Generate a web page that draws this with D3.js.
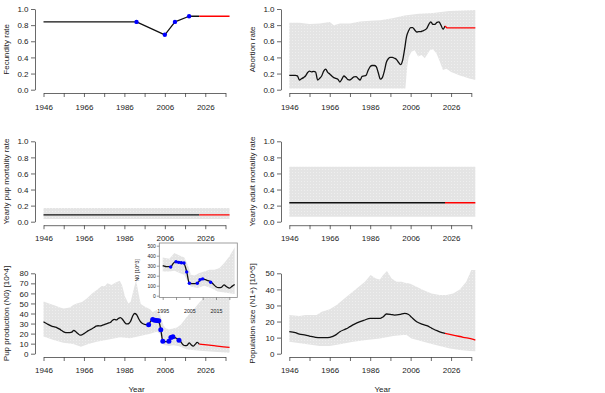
<!DOCTYPE html>
<html><head><meta charset="utf-8">
<script src="https://cdn.jsdelivr.net/npm/d3@7"></script>
<style>
body{margin:0;background:#fff}
svg text{font-family:"Liberation Sans",Arial,Helvetica,sans-serif;fill:#222}
</style>
</head><body>
<svg id="c" width="605" height="393"></svg>
<script>
// ---------------- DATA ----------------
const xTicks = [1946,1956,1966,1976,1986,1996,2006,2016,2026,2036];
const xTickLabels = [1946,1966,1986,2006,2026];
const rateTicks = [0,0.2,0.4,0.6,0.8,1.0];
const pupTicks = [0,10,20,30,40,50,60,70,80];
const popTicks = [0,10,20,30,40,50];
const insetXTicks = [1995,2000,2005,2010,2015,2020];
const insetXLabels = [1995,2005,2015];
const insetYTicks = [0,100,200,300,400,500];

// Fecundity
const fecYears = [1946,1992,2006,2011,2018,2023];
const fecRate  = [0.84,0.84,0.68,0.84,0.91,0.91];
const fecObsYears = [1992,2006,2011,2018];
const fecObs      = [0.84,0.68,0.84,0.91];
const fecProjYears = [2023,2038];
const fecProj      = [0.91,0.91];

// Abortion
const abortYears = d3.range(1946,2024);
const abortRate = [
 .178,.178,.178,.178,.172,.12,.135,.15,.17,.21,
 .23,.22,.228,.22,.12,.14,.17,.23,.255,.215,
 .195,.17,.15,.14,.13,.095,.13,.17,.15,.125,
 .12,.14,.16,.162,.14,.12,.165,.17,.18,.24,
 .285,.30,.30,.285,.21,.13,.15,.23,.34,.385,
 .40,.40,.39,.375,.34,.31,.36,.50,.66,.73,
 .77,.77,.74,.715,.72,.72,.73,.74,.76,.81,
 .84,.81,.81,.835,.84,.80,.75,.79];
const abortProjYears = [2023,2024,2038];
const abortProj      = [0.79,0.765,0.765];
const abortUpYears = [1946,1951,1956,1961,1966,1968,1971,1976,1981,1986,1991,1997,2003,2006,2010,2017,2025,2038];
const abortUpper   = [0.83,0.83,0.815,0.82,0.84,0.80,0.82,0.82,0.845,0.855,0.86,0.885,0.92,0.93,0.94,0.95,0.975,0.988];
const abortLoYears = [1946,1970,2003.4,2004.3,2005,2006.4,2008,2009.7,2011.4,2013,2014.5,2015.5,2017,2018.8,2020.4,2022,2023.7,2026,2030,2035,2038];
const abortLower   = [0.015,0.015,0.015,0.28,0.40,0.47,0.49,0.41,0.43,0.39,0.45,0.49,0.50,0.45,0.35,0.244,0.26,0.22,0.18,0.14,0.12];

// Yearly pup mortality
const pupMortYears = [1946,2023];
const pupMort      = [0.085,0.085];
const pupMortProjYears = [2023,2038];
const pupMortProj      = [0.085,0.085];
const pupMortBandYears = [1946,2038];
const pupMortUpper = [0.17,0.17];
const pupMortLower = [0.035,0.035];

// Yearly adult mortality
const adMortYears = [1946,2023];
const adMort      = [0.236,0.236];
const adMortProjYears = [2023,2038];
const adMortProj      = [0.236,0.236];
const adMortBandYears = [1946,2038];
const adMortUpper = [0.684,0.684];
const adMortLower = [0.062,0.062];

// Pup production N0 [10^4]
const pupYears = d3.range(1946,2024);
const pupN0 = [
 31.8,30.5,29.5,28.5,27.5,26.9,26.4,25.5,24.5,23,
 21.7,21,20.9,21,21.5,23.3,21.8,20,18.5,18.8,
 20,21.3,22.7,23.8,24.8,26,27.5,27.8,27.6,28.2,
 29,29.7,30.4,31,33,34.2,33.6,35,35.8,34.3,
 31.5,29.6,29.8,32,37,40,39,35,31.8,30,
 29.2,29,29,32.5,34,33.7,33,32,24,12.5,
 12,12,12.5,15.5,16.8,16,15,14,11.5,9,
 8,8.3,10.8,9,7.5,9.3,11.2,9.6];
const pupProjYears = [2023,2028,2033,2038];
const pupProj      = [9.6,8.5,7.3,6.3];
// survey counts [10^3]
const surveyYears = [1998,2000,2001,2002,2003,2004,2005,2008,2009,2010,2013];
const surveyN0    = [287,340,333,330,327,238,125,125,160,168,135];
const pupUpYears = [1946,1948.4,1951,1954.2,1956,1959,1960.7,1962.4,1965,1967.4,1970,1972.3,1974.8,1976.4,1977.6,1979.7,1981.4,1983.7,1984.8,1986.3,1988,1989.1,1990.5,1991.8,1993,1994.1,1996.2,1998.7,2000,2002,2003.7,2005,2006,2008,2010,2012,2014,2017,2020,2023.5,2030,2035,2038];
const pupUpper   = [52,50.3,48.5,46,45,46,48.5,50,51.5,55,60,63.4,67.4,67.4,70,68.4,70.6,72.5,68.4,57,50,51.7,63.4,73,60,49.5,46.8,44.2,41.5,43.5,38.5,30,26,24,25,26,29,37,43.5,52,63.4,73.4,80];
const pupLoYears = [1946,1951,1955.8,1960.7,1964.5,1968.2,1972.3,1978.9,1983.9,1988.8,1993.8,1998.7,2002,2003.5,2004.5,2005.4,2008,2010.3,2013,2016.9,2023.5,2031.8,2038];
const pupLower   = [17.2,13.6,10.9,9.7,7,9.7,11.9,14.3,16.3,15.3,17.6,19.8,21.9,20,13,9,7.7,8.5,7.5,4.3,3,1.7,1];
// inset band [10^3]
const insUpYears = [1995,1997.5,1999.4,2001.3,2003.1,2004.4,2005.6,2006.9,2008.7,2010.6,2012.5,2014.4,2016.3,2018.1,2020,2021.9,2022];
const insUpper   = [383,370,427,403,383,310,210,203,227,243,260,260,277,327,393,477,490];
const insLoYears = [1995,1997.5,1999.4,2001.3,2003.1,2004.4,2005.4,2008.1,2010.6,2013.1,2015.6,2019.4,2022];
const insLower   = [243,243,250,227,210,143,93,77,100,77,43,27,17];

// Population size N1+ [10^5]
const popYears = [1946,1949,1951,1954,1956,1959,1961,1964,1966,1969,1971,1974,1976,1978,1981,1983,1986,1988,1991,1992.5,1994,1996,1998,2001,2003,2005,2006.5,2009,2011.5,2014,2016.5,2019,2021.5,2023];
const popN1  = [13.7,13.1,12.1,11.6,11.0,10.2,9.95,9.95,10.2,11.7,13.7,15.4,16.8,18.2,19.9,20.8,22,22,22,23,24.7,24.5,24,24.5,25.1,24.4,22.6,19.9,18.4,17.4,15.8,14.3,13.1,12.6];
const popProjYears = [2023,2027,2032,2037,2038];
const popProj      = [12.6,11.6,10.2,8.9,8.5];
const popUpYears = [1946,1951,1954,1959.5,1962,1966,1969.4,1974.3,1979.3,1983.4,1986.2,1988.8,1990.8,1992.4,1994.3,1996.6,1999.1,2001.6,2003.1,2005.6,2008.9,2012.2,2016.3,2020.4,2023.7,2027,2030.3,2033.5,2036,2038];
const popUpper   = [24,23.4,24,24,26.1,27.6,30.3,35.4,40.6,44.8,48.9,46.8,46.2,48.9,51.5,46.8,44.8,44.8,44.2,43.7,41.7,39.6,37.5,36.5,36.5,37.5,40,44.8,52,52];
const popLoYears = [1946,1954,1961,1966,1971,1977.6,1984.2,1990.8,1997.4,2002.3,2004,2006.4,2010.6,2015.5,2020.4,2025.4,2030.3,2035.2,2038];
const popLower   = [7.5,6,4.8,4.8,5.8,7.5,8.5,9.5,11,11.6,11.6,9.5,8.1,6.4,4.8,3.3,2.3,1.7,1.5];

// ---------------- DRAW ----------------
const svg = d3.select("#c");
const defs = svg.append("defs");
const pat = defs.append("pattern").attr("id","dots").attr("width",3).attr("height",3).attr("patternUnits","userSpaceOnUse");
pat.append("rect").attr("width",3).attr("height",3).attr("fill","#e4e4e4");
pat.append("rect").attr("x",1).attr("y",1).attr("width",1).attr("height",1).attr("fill","#efefef");

const FS = 8;
const cols = [{axisX:35, x0:43.5, x1:225.5, labelX:9, yearX:136.5},
              {axisX:281, x0:289.3, x1:471.3, labelX:255, yearX:382.5}];
const rows = [{y0:89.7, y1:9, axisY:93, base:110},
              {y0:221.7, y1:141.3, axisY:225.2, base:241},
              {y0:353.7, y1:273.3, axisY:357, base:373}];
let clipN = 0;

function zip(xs, ys){ return xs.map((d,i)=>[d, ys[i]]); }

function panel(ci, ri, yDomain, yTicks, yFmt, title){
  const c = cols[ci], r = rows[ri];
  const x = d3.scaleLinear().domain([1946,2036]).range([c.x0,c.x1]);
  const y = d3.scaleLinear().domain(yDomain).range([r.y0,r.y1]);
  const g = svg.append("g");
  const id = "clip"+(clipN++);
  const ext = (r.y0 - r.y1)*0.04;
  const right = x(2038) + (c.x0 - c.axisX);
  defs.append("clipPath").attr("id",id).append("rect")
    .attr("x",c.axisX).attr("y",r.y1-ext).attr("width",right-c.axisX).attr("height",r.axisY-(r.y1-ext));
  const plot = g.append("g").attr("clip-path",`url(#${id})`);
  // axes
  const ax = g.append("g").attr("transform",`translate(0,${r.axisY})`)
    .call(d3.axisBottom(x).tickValues(xTicks).tickSize(4).tickSizeOuter(0)
      .tickFormat(d => xTickLabels.includes(d) ? d : ""));
  ax.selectAll("text").attr("y", r.base - r.axisY).attr("dy",0).style("font-size",FS+"px").attr("fill","#222");
  const ay = g.append("g").attr("transform",`translate(${c.axisX},0)`)
    .call(d3.axisLeft(y).tickValues(yTicks).tickSize(4).tickSizeOuter(0).tickFormat(yFmt));
  ay.selectAll("text").attr("x",-6.5).attr("dy","0.33em").style("font-size",FS+"px").attr("fill","#222");
  g.selectAll(".domain, .tick line").attr("stroke","#444").attr("stroke-width",0.8);
  g.selectAll(".tick text").attr("font-family",null);
  g.selectAll("g").attr("font-family",null).attr("font-size",null);
  // title
  g.append("text").attr("transform",`translate(${c.labelX},${(r.y0+r.y1)/2}) rotate(-90)`)
    .attr("text-anchor","middle").style("font-size",FS+"px").text(title);
  if (ri === 2) {
    g.append("text").attr("x",c.yearX).attr("y",391.5).attr("text-anchor","middle").style("font-size",FS+"px").text("Year");
  }
  return {x, y, plot};
}

function band(p, upY, up, loY, lo){
  const pts = zip(upY, up).concat(zip(loY, lo).reverse());
  p.plot.append("path")
    .attr("d", d3.line().x(d=>p.x(d[0])).y(d=>p.y(d[1]))(pts) + "Z")
    .attr("fill","url(#dots)").attr("stroke","none");
}
function line(p, xs, ys, color, curve){
  p.plot.append("path")
    .attr("d", d3.line().x(d=>p.x(d[0])).y(d=>p.y(d[1])).curve(curve||d3.curveLinear)(zip(xs,ys)))
    .attr("fill","none").attr("stroke",color).attr("stroke-width",1.3).attr("stroke-linejoin","round");
}
function points(p, xs, ys, rr){
  p.plot.selectAll(null).data(zip(xs,ys)).join("circle")
    .attr("cx",d=>p.x(d[0])).attr("cy",d=>p.y(d[1])).attr("r",rr).attr("fill","#0000ff");
}
const f1 = d3.format(".1f");

// Panel 1: fecundity
const p1 = panel(0,0,[0,1],rateTicks,f1,"Fecundity rate");
line(p1, fecYears, fecRate, "#111");
line(p1, fecProjYears, fecProj, "#ff0000");
points(p1, fecObsYears, fecObs, 2.2);

// Panel 2: abortion
const p2 = panel(1,0,[0,1],rateTicks,f1,"Abortion rate");
band(p2, abortUpYears, abortUpper, abortLoYears, abortLower);
line(p2, abortYears, abortRate, "#111", d3.curveMonotoneX);
line(p2, abortProjYears, abortProj, "#ff0000");

// Panel 3: pup mortality
const p3 = panel(0,1,[0,1],rateTicks,f1,"Yearly pup mortality rate");
band(p3, pupMortBandYears, pupMortUpper, pupMortBandYears, pupMortLower);
line(p3, pupMortYears, pupMort, "#111");
line(p3, pupMortProjYears, pupMortProj, "#ff0000");

// Panel 4: adult mortality
const p4 = panel(1,1,[0,1],rateTicks,f1,"Yearly adult mortality rate");
band(p4, adMortBandYears, adMortUpper, adMortBandYears, adMortLower);
line(p4, adMortYears, adMort, "#111");
line(p4, adMortProjYears, adMortProj, "#ff0000");

// Panel 5: pup production
const p5 = panel(0,2,[0,80],pupTicks,d3.format("d"),"Pup production (N0) [10^4]");
band(p5, pupUpYears, pupUpper, pupLoYears, pupLower);
line(p5, pupYears, pupN0, "#111", d3.curveMonotoneX);
line(p5, pupProjYears, pupProj, "#ff0000", d3.curveMonotoneX);
points(p5, surveyYears, surveyN0.map(v=>v/10), 2.5);

// Panel 6: population
const p6 = panel(1,2,[0,50],popTicks,d3.format("d"),"Population size (N1+) [10^5]");
band(p6, popUpYears, popUpper, popLoYears, popLower);
line(p6, popYears, popN1, "#111", d3.curveMonotoneX);
line(p6, popProjYears, popProj, "#ff0000", d3.curveMonotoneX);

// Inset
const box = {x0:159.3, x1:237.3, y0:243, y1:297.5};
const ix = d3.scaleLinear().domain([1995,2015]).range([162.7,216]);
const iy = d3.scaleLinear().domain([0,500]).range([295.7,245.7]);
const ig = svg.append("g");
ig.append("rect").attr("x",box.x0).attr("y",box.y0).attr("width",box.x1-box.x0).attr("height",box.y1-box.y0).attr("fill","#fff");
defs.append("clipPath").attr("id","iclip").append("rect")
  .attr("x",box.x0).attr("y",box.y0).attr("width",box.x1-box.x0).attr("height",box.y1-box.y0);
const ip = {x:ix, y:iy, plot: ig.append("g").attr("clip-path","url(#iclip)")};
band(ip, insUpYears, insUpper, insLoYears, insLower);
const insIdx = pupYears.map((d,i)=>i).filter(i=>pupYears[i]>=1995 && pupYears[i]<=2022);
line(ip, insIdx.map(i=>pupYears[i]), insIdx.map(i=>pupN0[i]*10), "#111", d3.curveMonotoneX);
points(ip, surveyYears, surveyN0, 1.7);
ig.append("rect").attr("x",box.x0).attr("y",box.y0).attr("width",box.x1-box.x0).attr("height",box.y1-box.y0)
  .attr("fill","none").attr("stroke","#888").attr("stroke-width",0.8);
const iax = ig.append("g").attr("transform",`translate(0,${box.y1})`)
  .call(d3.axisBottom(ix).tickValues(insetXTicks).tickSize(2.5).tickSizeOuter(0)
    .tickFormat(d=>insetXLabels.includes(d)?d:""));
iax.selectAll("text").attr("y",313.3-box.y1).attr("dy",0).style("font-size","5.3px").attr("fill","#222");
const iay = ig.append("g").attr("transform",`translate(${box.x0},0)`)
  .call(d3.axisLeft(iy).tickValues(insetYTicks).tickSize(2.5).tickSizeOuter(0));
iay.selectAll("text").attr("x",-3.5).attr("dy","0.33em").style("font-size","5px").attr("fill","#222");
ig.selectAll(".domain").attr("stroke","none");
ig.selectAll(".tick line").attr("stroke","#555").attr("stroke-width",0.6);
ig.selectAll("g").attr("font-family",null).attr("font-size",null);
ig.append("text").attr("transform",`translate(139.3,${(box.y0+box.y1)/2}) rotate(-90)`)
  .attr("text-anchor","middle").style("font-size","5.3px").text("N0 [10^3]");
</script>
</body></html>
